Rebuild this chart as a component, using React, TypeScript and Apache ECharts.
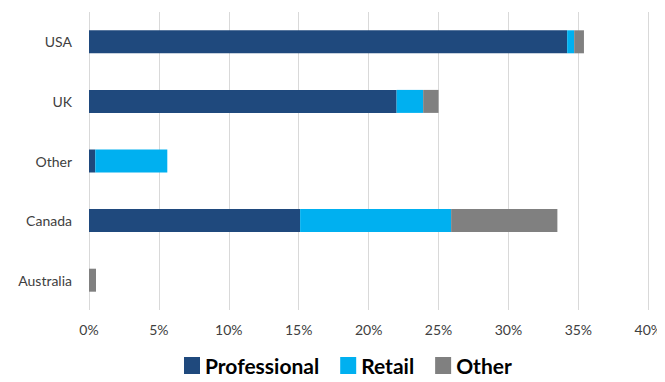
import React, { useEffect, useRef } from "react";
import * as echarts from "echarts";

const categories = ["USA", "UK", "Other", "Canada", "Australia"];
const professional = [34.2, 22.0, 0.45, 15.1, 0];
const retail = [0.5, 1.9, 5.15, 10.8, 0];
const other = [0.7, 1.1, 0, 7.6, 0.5];
const xTicks = [0, 5, 10, 15, 20, 25, 30, 35, 40];

const FONT = "Lato";

export default function App() {
  const ref = useRef<HTMLDivElement>(null);
  useEffect(() => {
    if (!ref.current) return;
    const chart = echarts.init(ref.current, undefined, { renderer: "svg" });
    const mk = (name: string, data: number[], color: string) => ({
      name,
      type: "bar",
      stack: "total",
      data,
      barWidth: 23,
      itemStyle: { color },
    });
    chart.setOption({
      animation: false,
      textStyle: { fontFamily: FONT },
      grid: { left: 89, right: 14, top: 12, bottom: 72, containLabel: false },
      legend: {
        top: 355,
        left: 184,
        padding: 0,
        itemWidth: 16,
        itemHeight: 17,
        itemGap: 21,
        icon: "rect",
        textStyle: { fontFamily: FONT, fontSize: 21, fontWeight: "bold", color: "#000" },
        data: ["Professional", "Retail", "Other"],
      },
      xAxis: {
        type: "value",
        min: xTicks[0],
        max: xTicks[xTicks.length - 1],
        interval: 5,
        axisLine: { show: false },
        axisTick: { show: false },
        splitLine: { lineStyle: { color: "#d9d9d9", width: 1 } },
        axisLabel: {
          formatter: (v: number) => `${v}%`,
          fontFamily: FONT,
          fontSize: 14,
          color: "#404040",
          margin: 12,
        },
      },
      yAxis: {
        type: "category",
        data: categories,
        inverse: true,
        axisLine: { show: false },
        axisTick: { show: false },
        axisLabel: { fontFamily: FONT, fontSize: 14, color: "#404040", margin: 17 },
      },
      series: [
        mk("Professional", professional, "#1f497d"),
        mk("Retail", retail, "#00b0f0"),
        mk("Other", other, "#808080"),
      ],
    });
    return () => chart.dispose();
  }, []);
  return <div ref={ref} style={{ width: 665, height: 382, margin: -8 }} />;
}
